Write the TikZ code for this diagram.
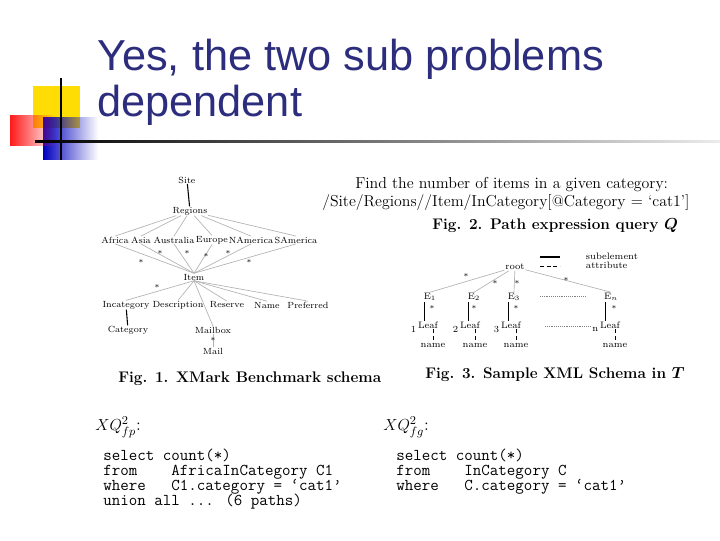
\documentclass[tikz,border=0pt]{standalone}
\usepackage{amsmath}
\usepackage{fontspec}
\newfontfamily\titlefont{Liberation Sans}
\usetikzlibrary{fadings}
\definecolor{titleblue}{RGB}{45,45,125}
\newcommand{\tightcode}{\lineskiplimit=-10pt\relax}
\begin{document}
\begin{tikzpicture}[
    x=0.75pt, y=-0.75pt,
    lbl/.style={inner sep=0.3pt, font=\fontsize{6.7}{8}\selectfont},
    lbl3/.style={inner sep=0.5pt, font=\fontsize{7}{8}\selectfont},
    star/.style={inner sep=0pt, font=\fontsize{6}{6}\selectfont},
    figcap/.style={font=\fontsize{11.5}{13}\selectfont\bfseries, anchor=west, inner sep=0pt},
    edge/.style={gray!60, line width=0.5pt},
    solidedge/.style={black, line width=0.8pt},
    attr/.style={black, densely dashed, line width=0.6pt},
    code/.style={font=\fontsize{12.4}{11.25}\selectfont\ttfamily\tightcode, anchor=north west, align=left, inner sep=0pt}
]
    \useasboundingbox (0,0) rectangle (720,540);
    % Title decoration
    \fill[yellow!80!orange] (33,86) rectangle (80,128);
    \fill[blue!75!black, path fading=east] (43,117) rectangle (98,160);
    \fill[red!90, path fading=east] (10,115) rectangle (56,146);
    \draw[line width=1.5pt] (61,78) -- (61,160);
    \shade[left color=black, right color=gray!15] (35,140) rectangle (720,142);
    \node[anchor=base west, inner sep=0pt, text=titleblue, align=left,
        font=\titlefont\fontsize{32.5}{34.5}\selectfont] (title) at (97,116)
        {Yes, the two sub problems\\dependent};

    % Fig. 1
    \node[lbl] (site) at (187,180) {Site};
    \node[lbl] (regions) at (190,211) {Regions};
    \node[lbl] (africa) at (115,240) {Africa};
    \node[lbl] (asia) at (141,240) {Asia};
    \node[lbl] (australia) at (174,240) {Australia};
    \node[lbl] (europe) at (212,240) {Europe};
    \node[lbl] (namerica) at (251,240) {NAmerica};
    \node[lbl] (samerica) at (296,240) {SAmerica};
    \node[lbl] (item) at (194,277) {Item};
    \node[lbl] (incat) at (126,305) {Incategory};
    \node[lbl] (descr) at (178,305) {Description};
    \node[lbl] (reserve) at (227,305) {Reserve};
    \node[lbl] (name) at (267,305) {Name};
    \node[lbl] (pref) at (308,305) {Preferred};
    \node[lbl] (category) at (128,330) {Category};
    \node[lbl] (mailbox) at (213,330) {Mailbox};
    \node[lbl] (mail) at (213,351) {Mail};
    \draw[solidedge] (site) -- (regions);
    \draw[solidedge] (incat) -- (category);
    \foreach \c in {africa,asia,australia,europe,namerica,samerica}
        \draw[edge] (regions) -- (\c.north);
    \foreach \c in {africa,asia,australia,europe,namerica,samerica}
        \draw[edge] (\c.south) -- (item.north);
    \foreach \c in {incat,descr,reserve,name,pref}
        \draw[edge] (item.south) -- (\c.north);
    \draw[edge] (item.south) -- (mailbox.north);
    \draw[edge] (mailbox) -- (mail);
    \foreach \x/\y in {141/262,160/253,187/253,206/256,228/253,249/262,157/287,213/340}
        \node[star] at (\x,\y) {*};
    \node[figcap] (cap1) at (118,379) {Fig. 1. XMark Benchmark schema};

    % Fig. 2
    \node[anchor=west, inner sep=0pt, font=\fontsize{11.9}{13}\selectfont] (find) at (355,185)
        {Find the number of items in a given category:};
    \node[anchor=west, inner sep=0pt, font=\fontsize{11.9}{13}\selectfont] (query) at (322,203)
        {/Site/Regions//Item/InCategory[@Category = \textquoteleft cat1\textquoteright]};
    \node[figcap] (cap2) at (432,226) {Fig. 2. Path expression query $\boldsymbol{Q}$};

    % Fig. 3
    \node[lbl3] (root) at (515,267) {root};
    \draw[solidedge] (540,257) -- (560,257);
    \node[lbl3, anchor=west] (sub) at (585,256) {subelement};
    \draw[attr] (540,266) -- (560,266);
    \node[lbl3, anchor=west] (att) at (585,265) {attribute};
    \node[lbl3] (e1) at (430,297) {E$_1$};
    \node[lbl3] (e2) at (474,297) {E$_2$};
    \node[lbl3] (e3) at (514,297) {E$_3$};
    \node[lbl3] (en) at (611,297) {E$_n$};
    \foreach \i/\x/\n in {1/428/1,2/470/2,3/511/3,n/610/n} {
        \node[lbl3] (leaf\i) at (\x,325) {Leaf};
        \node[lbl3, anchor=east] at (leaf\i.south west) {\n};
        \node[lbl3] (name\i) at (\x+5,345) {name};
    }
    \foreach \i in {1,2,3,n} {
        \draw[edge] (root) -- (e\i.north);
        \draw[solidedge] (e\i.south west) ++(2,0) coordinate (s\i) -- (s\i |- leaf\i.north);
        \draw[attr] (name\i.north |- leaf\i.south) -- (name\i.north);
    }
    \draw[densely dotted, gray] (540,296) -- (585,296);
    \draw[densely dotted, gray] (545,326) -- (590,326);
    \foreach \x/\y in {466/276,495/283,517/283,566/280,432/308,474/308,516/308,614/308}
        \node[star] at (\x,\y) {*};
    \node[figcap] (cap3) at (425,375) {Fig. 3. Sample XML Schema in $\boldsymbol{T}$};

    % Queries
    \node[anchor=west, inner sep=0pt, font=\fontsize{13}{14}\selectfont] (xqfp) at (95,427) {$XQ^2_{fp}$:};
    \node[code] (codefp) at (103,449) {select count(*)\\from\ \ \ \ AfricaInCategory C1\\where\ \ \ C1.category = \textquoteleft cat1\textquoteright\\union all ... (6 paths)};
    \node[anchor=west, inner sep=0pt, font=\fontsize{13}{14}\selectfont] (xqfg) at (383,427) {$XQ^2_{fg}$:};
    \node[code] (codefg) at (396,449) {select count(*)\\from\ \ \ \ InCategory C\\where\ \ \ C.category = \textquoteleft cat1\textquoteright};
\end{tikzpicture}
\end{document}
